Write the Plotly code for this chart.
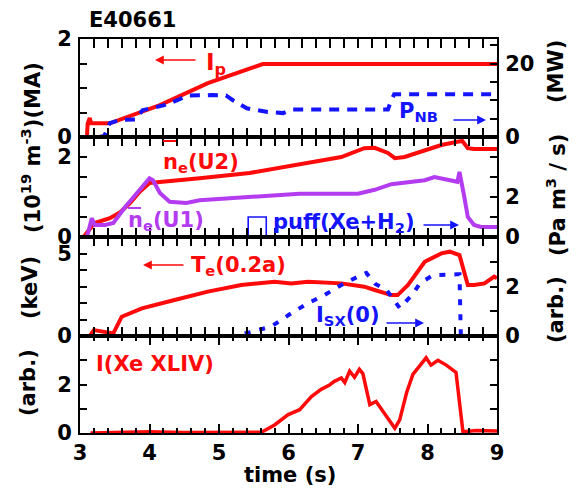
import plotly.graph_objects as go

# ---------------- data ----------------
t_ip = [3.0, 3.1, 3.11, 3.14, 3.16, 3.43, 4.15, 4.84, 5.63, 9.0]
ip_ma = [0.0, 0.0, 0.27, 0.39, 0.28, 0.28, 0.65, 1.10, 1.49, 1.49]

t_nb = [3.0, 3.28, 3.35, 3.43, 3.57, 3.8, 3.9, 4.2, 4.4, 4.55, 4.9, 5.1, 5.2, 5.4, 5.7, 5.92, 6.06, 7.43, 7.48, 7.52, 9.0]
p_nb = [0.0, 0.0, 0.3, 3.8, 4.6, 4.8, 7.3, 8.6, 10.0, 11.3, 11.4, 11.3, 10.0, 7.8, 6.8, 6.5, 7.5, 7.5, 10.0, 11.6, 11.6]

t_u2 = [3.05, 3.12, 3.21, 3.43, 3.58, 3.72, 3.86, 4.0, 4.15, 4.72, 5.44, 6.16, 6.28, 6.76, 7.09, 7.24, 7.43, 7.53, 7.67, 7.96, 8.2, 8.43, 8.5, 8.58, 8.67, 9.0]
ne_u2 = [0.0, 0.17, 0.35, 0.47, 0.62, 0.85, 1.13, 1.35, 1.38, 1.47, 1.6, 1.82, 1.85, 2.0, 2.22, 2.23, 2.1, 1.97, 2.0, 2.17, 2.3, 2.38, 2.4, 2.22, 2.2, 2.2]

t_u1 = [3.05, 3.1, 3.17, 3.21, 3.36, 3.48, 3.65, 3.86, 4.0, 4.05, 4.15, 4.29, 4.53, 4.72, 5.44, 6.16, 7.0, 7.24, 7.48, 7.96, 8.1, 8.43, 8.46, 8.49, 8.53, 8.58, 8.67, 8.77, 9.0]
ne_u1 = [0.0, 0.0, 0.47, 0.3, 0.3, 0.35, 0.75, 1.18, 1.47, 1.42, 1.1, 0.88, 0.85, 0.92, 1.0, 1.08, 1.08, 1.18, 1.32, 1.42, 1.5, 1.38, 1.63, 1.3, 1.0, 0.5, 0.3, 0.25, 0.25]

t_puff = [5.42, 5.42, 5.68, 5.68]
puff = [0.0, 1.0, 1.0, 0.0]

t_te = [3.0, 3.14, 3.2, 3.3, 3.43, 3.48, 3.6, 3.89, 4.36, 4.84, 5.32, 5.8, 6.04, 6.28, 6.76, 7.09, 7.24, 7.48, 7.57, 7.72, 7.96, 8.2, 8.32, 8.46, 8.58, 8.67, 8.82, 8.96, 9.0]
te_kev = [0.0, 0.0, 0.36, 0.3, 0.22, 0.16, 1.17, 1.68, 2.18, 2.69, 3.09, 3.29, 3.19, 3.29, 3.19, 2.99, 2.79, 2.48, 2.48, 3.09, 4.5, 5.01, 5.11, 4.91, 3.09, 3.09, 3.19, 3.6, 3.5]

t_sx = [3.0, 5.23, 5.47, 5.75, 6.04, 6.28, 6.52, 6.76, 7.0, 7.12, 7.25, 7.41, 7.6, 7.79, 7.89, 8.08, 8.42, 8.46, 8.48, 9.0]
i_sx = [0.0, 0.0, 0.17, 0.38, 0.92, 1.32, 1.66, 2.06, 2.4, 2.55, 2.1, 1.86, 1.13, 1.7, 2.13, 2.46, 2.49, 2.49, 0.0, 0.0]

t_xe = [3.15, 3.5, 4.0, 4.5, 5.0, 5.61, 5.8, 5.99, 6.16, 6.33, 6.47, 6.59, 6.66, 6.76, 6.81, 6.88, 6.95, 7.02, 7.07, 7.17, 7.26, 7.41, 7.53, 7.6, 7.7, 7.79, 7.89, 7.98, 8.05, 8.15, 8.27, 8.41, 8.51, 8.7, 9.0]
i_xe = [0.0, 0.03, 0.05, 0.02, 0.04, 0.03, 0.33, 0.75, 0.96, 1.5, 1.8, 1.98, 2.13, 2.27, 2.08, 2.55, 2.3, 2.63, 2.45, 1.17, 1.3, 0.67, 0.2, 0.54, 1.67, 2.42, 2.75, 3.1, 2.8, 3.0, 2.8, 2.5, 0.05, 0.1, 0.08]

# ---------------- styling ----------------
RED = "#ff0a0a"
BLUE = "#1414ff"
PURPLE = "#b43cf0"
FONT = "DejaVu Sans"
FS = 21
OFF = 8  # page body margin in the browser
W, H = 581 - OFF, 489 - OFF
# screen-pixel layout of the plotting area: x 80..497, y 39..433
SX0, SX1, SY0, SY1 = 80, 497, 39, 433
L, T = SX0 - OFF, SY0 - OFF
R, B = W - (SX1 - OFF), H - (SY1 - OFF)
PW, PH = SX1 - SX0, SY1 - SY0

def P(px, py):
    # screen pixel -> paper coordinates
    return (px - SX0) / PW, (SY1 - py) / PH

d4 = [0.0, (SY1 - 336) / PH]
d3 = [(SY1 - 336) / PH, (SY1 - 237) / PH]
d2 = [(SY1 - 237) / PH, (SY1 - 137) / PH]
d1 = [(SY1 - 137) / PH, 1.0]

fig = go.Figure()

def tr(x, y, xa, ya, color, width=4, dash=None):
    fig.add_trace(go.Scatter(x=x, y=y, xaxis=xa, yaxis=ya, mode="lines",
                             line=dict(color=color, width=width, dash=dash),
                             showlegend=False, hoverinfo="skip"))

tr(t_ip, ip_ma, "x", "y", RED)
tr(t_nb, p_nb, "x", "y2", BLUE, 4, "10px,8px")
tr(t_u2, ne_u2, "x2", "y3", RED)
tr(t_u1, ne_u1, "x2", "y3", PURPLE)
tr(t_puff, puff, "x2", "y4", BLUE, 1.6)
tr(t_te, te_kev, "x3", "y5", RED)
tr(t_sx, i_sx, "x3", "y6", BLUE, 4, "6px,9px")
tr(t_xe, i_xe, "x4", "y7", RED, 3.5)

tickfont = dict(family=FONT, size=FS, color="black", weight="bold")

def xax(anchor, labels):
    return dict(domain=[0, 1], range=[3, 9], anchor=anchor, showline=True, linewidth=2,
                linecolor="black", mirror="allticks", ticks="inside", ticklen=9, tickwidth=1.5,
                tickcolor="black", tickmode="linear", tick0=3, dtick=1,
                showticklabels=labels, tickfont=tickfont, automargin=False,
                showgrid=False, zeroline=False,
                minor=dict(dtick=0.2, tick0=3, ticks="inside", ticklen=5, tickwidth=1.5,
                           tickcolor="black", showgrid=False))

def yax(dom, rng, vals, texts, anchor, side="left", overlay=None, mirror=False):
    d = dict(range=rng, anchor=anchor, side=side, showline=True, linewidth=2,
             linecolor="black", ticks="inside", ticklen=7, tickwidth=1.5, tickcolor="black",
             tickmode="array", tickvals=vals, ticktext=texts, tickfont=tickfont, showgrid=False,
             zeroline=False, mirror=mirror, ticklabelstandoff=2, automargin=False)
    if overlay:
        d["overlaying"] = overlay
    else:
        d["domain"] = dom
    return d

fig.update_layout(
    template="none",
    width=W, height=H, margin=dict(l=L, r=R, t=T, b=B, autoexpand=False),
    paper_bgcolor="white", plot_bgcolor="white", showlegend=False,
    font=dict(family=FONT, size=FS, color="black", weight="bold"),
    xaxis=xax("y", False),
    xaxis2=xax("y3", False),
    xaxis3=xax("y5", False),
    xaxis4=xax("y7", True),
    yaxis=yax(d1, [0, 2], [0, 0.5, 1, 1.5, 2], ["0", "", "", "", "2"], "x"),
    yaxis2=yax(None, [0, 80 / 3], [0, 5, 10, 15, 20, 25], ["0", "", "", "", "20", ""], "x", "right", "y"),
    yaxis3=yax(d2, [0, 2.5], [0, 0.5, 1, 1.5, 2, 2.5], ["0", "", "", "", "2", ""], "x2"),
    yaxis4=yax(None, [0, 5], [0, 1, 2, 3, 4, 5], ["0", "", "2", "", "", ""], "x2", "right", "y3"),
    yaxis5=yax(d3, [0, 6], [0, 1, 2, 3, 4, 5, 6], ["0", "", "", "", "", "5", ""], "x3"),
    yaxis6=yax(None, [0, 4], [0, 1, 2, 3, 4], ["0", "", "2", "", ""], "x3", "right", "y5"),
    yaxis7=yax(d4, [0, 4], [0, 1, 2, 3, 4], ["0", "", "2", "", ""], "x4", mirror="allticks"),
)

ann = []

def text(px, py, s, color="black", size=FS, angle=0, xanchor="center"):
    x, y = P(px, py)
    ann.append(dict(x=x, y=y, xref="paper", yref="paper", text=s, showarrow=False,
                    textangle=angle, xanchor=xanchor, yanchor="middle",
                    font=dict(family=FONT, size=size, color=color, weight="bold")))

def arrow(x0, x1, py, color):
    # arrow from x0 (tail) to x1 (head)
    x, y = P(x1, py)
    ann.append(dict(x=x, y=y, xref="paper", yref="paper", text="", showarrow=True,
                    ax=x0 - x1, ay=0, arrowhead=2, arrowsize=1.1, arrowwidth=1.6,
                    arrowcolor=color))

text(132, 20, "E40661")
text(290, 475, "time (s)")
text(31, 148, "(10<sup>19</sup> m<sup>-3</sup>)(MA)", angle=-90)
text(30, 288, "(keV)", angle=-90)
text(28, 383, "(arb.)", angle=-90)
text(556, 72, "(MW)", angle=-90)
text(556, 195, "(Pa m<sup>3</sup> / s)", angle=-90)
text(556, 310, "(arb.)", angle=-90)

text(204, 64, "I<sub>p</sub>", RED, 23, xanchor="left")
arrow(197, 155, 60, RED)
text(397, 112, "P<sub>NB</sub>", BLUE, xanchor="left")
arrow(452, 486, 120, BLUE)

text(161, 163, "n<sub>e</sub>(U2)", RED, xanchor="left")
text(126, 221, "n<sub>e</sub>(U1)", PURPLE, xanchor="left")
text(271, 223, "puff(Xe+H<sub>2</sub>)", BLUE, xanchor="left")
arrow(422, 459, 225, BLUE)

text(189, 266, "T<sub>e</sub>(0.2a)", RED, xanchor="left")
arrow(185, 143, 265, RED)
text(314, 316, "I<sub>SX</sub>(0)", BLUE, xanchor="left")
arrow(385, 424, 323, BLUE)

text(94, 364, "I(Xe XLIV)", RED, xanchor="left")

fig.update_layout(annotations=ann)

shapes = []
for (xa, xb, py, c) in [(163, 176, 141, RED), (128, 141, 208, PURPLE)]:
    x0, y0 = P(xa, py)
    x1, _ = P(xb, py)
    shapes.append(dict(type="line", xref="paper", yref="paper", x0=x0, x1=x1, y0=y0, y1=y0,
                       line=dict(color=c, width=2)))
fig.update_layout(shapes=shapes)

fig.write_html("out.html")
